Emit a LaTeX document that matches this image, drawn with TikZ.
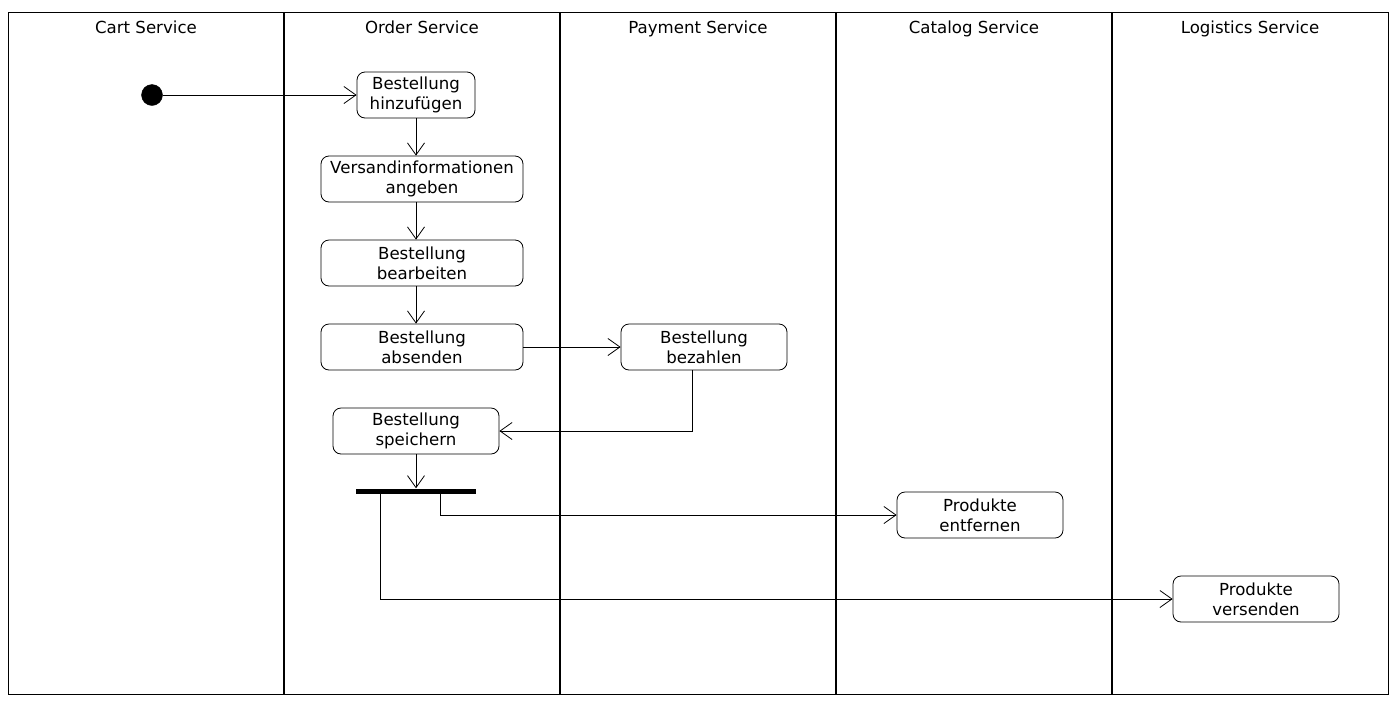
\documentclass[tikz,border=0pt]{standalone}
\usepackage{fontspec}
\setmainfont{DejaVu Sans}
\usetikzlibrary{arrows.meta,positioning,calc}

\begin{document}
\begin{tikzpicture}[x=1pt, y=-1pt,
  lanetitle/.style={anchor=base, font=\fontsize{16.6}{20}\selectfont},
  act/.style={rectangle, rounded corners=8pt, draw=black, line width=0.8pt, minimum height=46pt, inner sep=2pt, align=center, font=\fontsize{16.6}{20}\selectfont},
  flow/.style={-{Straight Barb[length=12pt, width=17pt]}, line width=0.8pt}]
  \useasboundingbox (0,0) rectangle (1398,705);

  % swimlanes
  \draw[line width=1pt] (8,12) rectangle (1388,694);
  \foreach \x in {284,560,836,1112}
    \draw[line width=1.8pt] (\x,12) -- (\x,694);
  \node (cart) [lanetitle] at (146,33) {Cart Service};
  \node (order) [lanetitle] at (422,33) {Order Service};
  \node (payment) [lanetitle] at (698,33) {Payment Service};
  \node (catalog) [lanetitle] at (974,33) {Catalog Service};
  \node (logistics) [lanetitle] at (1250,33) {Logistics Service};

  % activities
  \node (start) [circle, fill=black, draw=black, minimum size=21pt, inner sep=0pt] at (152,95) {};
  \node (add) [act, minimum width=118pt] at (416,95) {Bestellung\\hinzufügen};
  \node (ship) [act, minimum width=202pt] at (422,179) {Versandinformationen\\angeben};
  \node (edit) [act, minimum width=202pt] at (422,263) {Bestellung\\bearbeiten};
  \node (send) [act, minimum width=202pt] at (422,347) {Bestellung\\absenden};
  \node (pay) [act, minimum width=166pt] at (704,347) {Bestellung\\bezahlen};
  \node (save) [act, minimum width=166pt] at (416,431) {Bestellung\\speichern};
  \node (fork) [rectangle, fill=black, minimum width=120pt, minimum height=5pt, inner sep=0pt] at (416,491) {};
  \node (remove) [act, minimum width=166pt] at (980,515) {Produkte\\entfernen};
  \node (deliver) [act, minimum width=166pt] at (1256,599) {Produkte\\versenden};

  % flows
  \draw[flow] (start) -- (add);
  \draw[flow] (add.south) -- (add.south |- ship.north);
  \draw[flow] (add.south |- ship.south) -- (add.south |- edit.north);
  \draw[flow] (add.south |- edit.south) -- (add.south |- send.north);
  \draw[flow] (send.east) -- (pay.west);
  \draw[flow] ([xshift=-12pt]pay.south) |- (save.east);
  \draw[flow] (save.south) -- (fork.north);
  \draw[flow] ([xshift=24pt]fork.south) |- (remove.west);
  \draw[flow] ([xshift=-36pt]fork.south) |- (deliver.west);
\end{tikzpicture}
\end{document}
